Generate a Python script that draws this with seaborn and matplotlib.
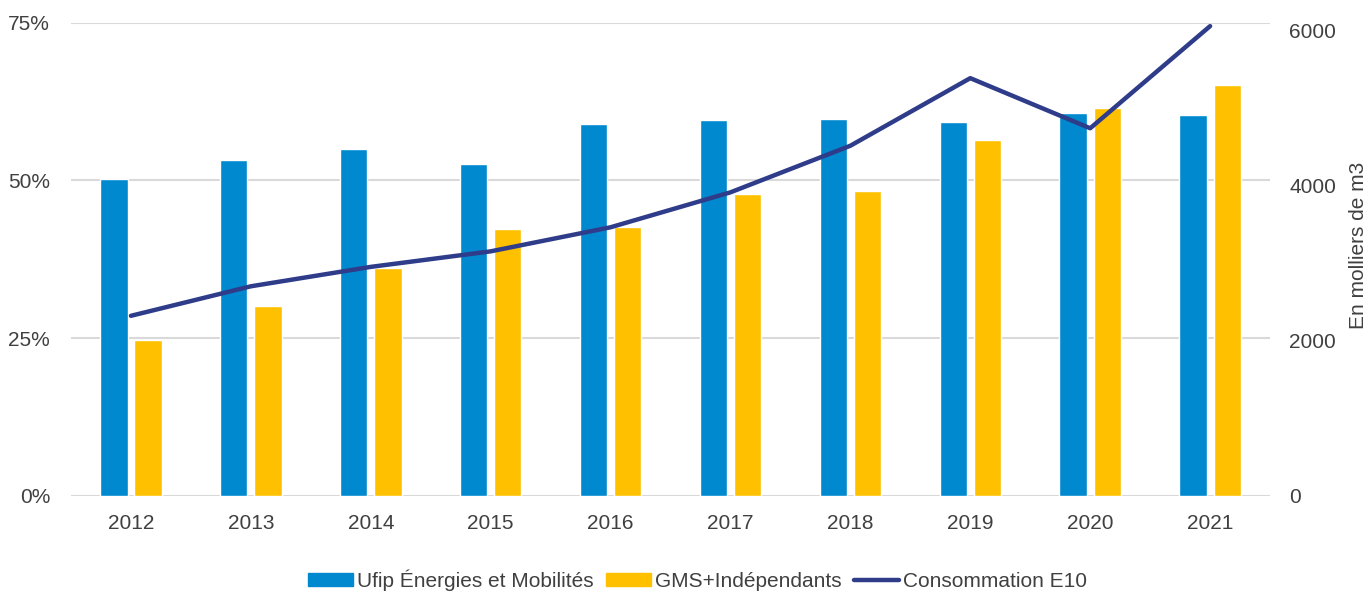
import numpy as np
import pandas as pd
import matplotlib
matplotlib.use("Agg")
import matplotlib.pyplot as plt
import seaborn as sns
from matplotlib.ticker import FuncFormatter

# =========================================
# DATA
# =========================================

years = ["2012", "2013", "2014", "2015", "2016", "2017", "2018", "2019", "2020", "2021"]
ufip = [50.2, 53.3, 55.0, 52.6, 58.9, 59.6, 59.7, 59.2, 60.7, 60.3]
gms = [24.7, 30.1, 36.2, 42.3, 42.6, 47.8, 48.3, 56.4, 61.5, 65.1]
conso_e10 = [2320, 2700, 2950, 3150, 3460, 3910, 4510, 5380, 4735, 6050]

label_ufip = "Ufip Énergies et Mobilités"
label_gms = "GMS+Indépendants"
label_conso = "Consommation E10"

# =========================================
# STYLE
# =========================================

sns.set_theme(style="white")
plt.rcParams["font.family"] = ["Liberation Sans Narrow", "Liberation Sans", "DejaVu Sans"]

blue = "#0089CF"
yellow = "#FFC000"
navy = "#2E3C8A"
grey_txt = "#404040"
grid_col = "#D9D9D9"
fs = 15

df = pd.DataFrame({
    "year": years * 2,
    "share": ufip + gms,
    "serie": [label_ufip] * len(years) + [label_gms] * len(years),
})

fig = plt.figure(figsize=(13.68, 5.93), dpi=100)
ax = fig.add_axes([0.0519, 0.1636, 0.8765, 0.7981])

sns.barplot(
    data=df, x="year", y="share", hue="serie",
    palette=[blue, yellow], width=0.57, gap=0.2,
    saturation=1, ax=ax, legend=False,
)

ax.set_ylim(0, 75)
ax.set_yticks([0, 25, 50, 75])
ax.yaxis.set_major_formatter(FuncFormatter(lambda v, p: f"{v:.0f}%"))
ax.set_xlim(-0.5, len(years) - 0.5)
ax.set_xlabel("")
ax.set_ylabel("")
ax.grid(axis="y", color=grid_col, linewidth=1.5)
ax.set_axisbelow(True)
for s in ax.spines.values():
    s.set_visible(False)
ax.tick_params(axis="y", length=0, pad=15, labelsize=fs, labelcolor=grey_txt)
ax.tick_params(axis="x", length=0, pad=13, labelsize=fs, labelcolor=grey_txt)

# line on secondary axis
ax2 = ax.twinx()
sns.lineplot(x=np.arange(len(years)), y=conso_e10, color=navy, linewidth=3.2,
             ax=ax2, solid_capstyle="round")
ax2.set_ylim(0, 6094)
ax2.set_yticks([0, 2000, 4000, 6000])
ax2.grid(False)
for s in ax2.spines.values():
    s.set_visible(False)
ax2.tick_params(axis="y", length=0, pad=14, labelsize=fs, labelcolor=grey_txt)
ax2.set_ylabel("En molliers de m3", fontsize=fs, color=grey_txt)
ax2.yaxis.set_label_coords(1.066, 0.53)

# =========================================
# LEGEND
# =========================================

handles = [
    plt.Rectangle((0, 0), 1, 1, color=blue),
    plt.Rectangle((0, 0), 1, 1, color=yellow),
    plt.Line2D([0], [0], color=navy, linewidth=3.2),
]
fig.legend(
    handles, [label_ufip, label_gms, label_conso],
    loc="lower center", bbox_to_anchor=(0.51, -0.028), ncol=3,
    frameon=False, fontsize=fs, handlelength=2.15, handleheight=0.6,
    handletextpad=0.2, columnspacing=0.6, labelcolor=grey_txt,
)

plt.savefig("out.png", dpi=100)
plt.close()
